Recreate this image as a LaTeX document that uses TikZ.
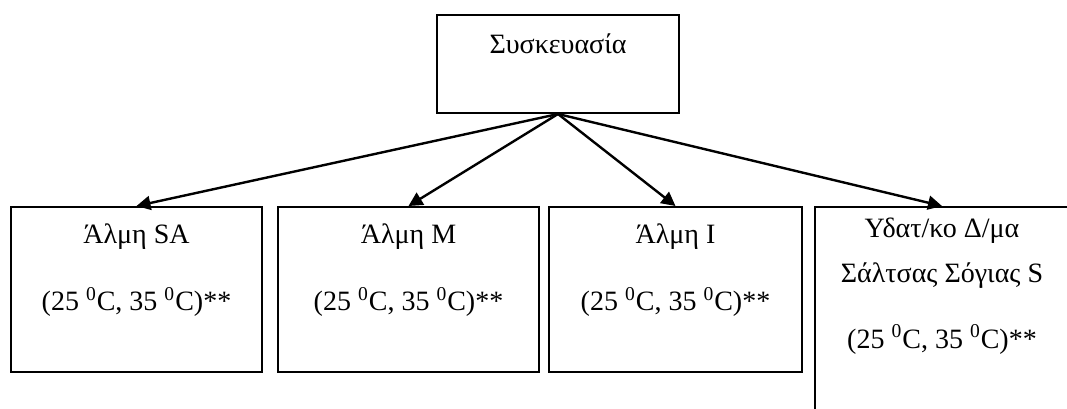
\documentclass[tikz,border=0pt]{standalone}
\usepackage{fontspec}
\setmainfont{Liberation Serif}
\usetikzlibrary{arrows.meta,calc}

\newcommand{\templine}{(25 \textsuperscript{0}C, 35 \textsuperscript{0}C)**}

\begin{document}
\begin{tikzpicture}[
  x=0.5pt, y=-0.5pt,
  box/.style={draw, line width=1pt, inner sep=0pt},
  txt/.style={align=center, inner sep=0pt, font=\fontsize{14}{22.5}\selectfont},
  arrow/.style={-{Triangle[length=7pt, width=7pt]}, line width=1.2pt},
]
\useasboundingbox (0,0) rectangle (1067,408);

% === Packaging box ===
\node[box, minimum width=121pt, minimum height=49pt] (pack) at (558,64) {};
\node[txt] (packtxt) at ($(pack.north)+(0,30)$) {Συσκευασία};

% === Brines / sauce ===
\node[box, minimum width=125.5pt, minimum height=82.5pt] (sa) at (136.5,289.5) {};
\node[box, minimum width=130.5pt, minimum height=82.5pt] (m) at (408.5,289.5) {};
\node[box, minimum width=126.5pt, minimum height=82.5pt] (i) at (675.5,289.5) {};
\node[box, minimum width=127pt, minimum height=106.5pt] (soy) at (942,313.5) {};

\node[txt] (satxt) at ($(sa.north)+(0,64.5)$) {Άλμη SA\\[11pt]\templine};
\node[txt] (mtxt) at ($(m.north)+(0,64.5)$) {Άλμη M\\[11pt]\templine};
\node[txt] (itxt) at ($(i.north)+(0,64.5)$) {Άλμη I\\[11pt]\templine};
\node[txt] (soytxt) at ($(soy.north)+(0,80)$) {Υδατ/κο Δ/μα\\Σάλτσας Σόγιας S\\[10.5pt]\templine};

% === Arrows ===
\draw[arrow] (pack.south) -- (sa.north);
\draw[arrow] (pack.south) -- (m.north);
\draw[arrow] (pack.south) -- (i.north);
\draw[arrow] (pack.south) -- (soy.north);

\end{tikzpicture}
\end{document}
